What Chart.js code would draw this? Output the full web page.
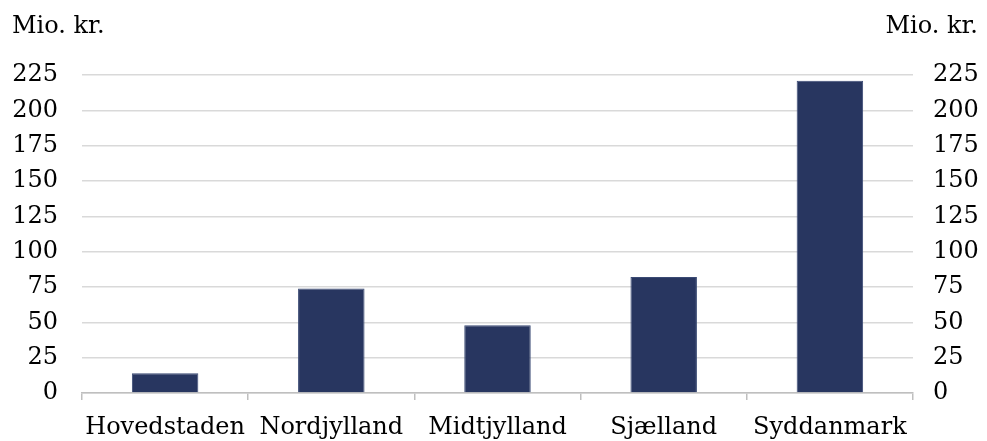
<!DOCTYPE html>
<html><head><meta charset="utf-8">
<script src="https://cdn.jsdelivr.net/npm/chart.js@4.4.0/dist/chart.umd.min.js"></script>
<style>html,body{margin:0;padding:0;background:#fff}#wrap{width:987px;height:441px;position:relative}</style>
</head><body><div id="wrap"><canvas id="c" width="987" height="441"></canvas></div>
<script>
const categories = ["Hovedstaden", "Nordjylland", "Midtjylland", "Sjælland", "Syddanmark"];
const values = [14, 74, 48, 82, 221];
const unitLabel = "Mio. kr.";
const yMin = 0, yMax = 225, yStep = 25;

const FONT = "'DejaVu Serif', Georgia, serif";
const FS = 24;
const unitPlugin = {
  id: 'unitPlugin',
  afterDraw(chart) {
    const ctx = chart.ctx;
    ctx.save();
    ctx.font = FS + "px " + FONT;
    ctx.fillStyle = "#000";
    ctx.textBaseline = "alphabetic";
    ctx.textAlign = "left";
    ctx.fillText(unitLabel, 12, 33);
    ctx.textAlign = "right";
    ctx.fillText(unitLabel, 978, 33);
    ctx.restore();
  }
};

new Chart(document.getElementById('c'), {
  type: 'bar',
  data: {
    labels: categories,
    datasets: [{
      data: values,
      backgroundColor: '#283660',
      borderColor: '#3a4a74',
      borderWidth: 1,
      barPercentage: 0.8,
      categoryPercentage: 0.5
    }]
  },
  options: {
    responsive: false,
    animation: false,
    layout: { padding: { top: 75, left: 0, right: 0, bottom: 0 } },
    plugins: { legend: { display: false }, tooltip: { enabled: false } },
    scales: {
      x: {
        grid: { drawOnChartArea: false, drawTicks: true, tickLength: 7, color: '#bfbfbf', lineWidth: 1.5 },
        border: { color: '#bfbfbf', width: 1.5 },
        ticks: { color: '#000', font: { family: FONT, size: FS }, padding: 13, maxRotation: 0, autoSkip: false },
        afterFit(s) { s.height = 48; }
      },
      y: {
        position: 'left',
        min: yMin, max: yMax,
        ticks: { stepSize: yStep, color: '#000', font: { family: FONT, size: FS }, padding: 24 },
        grid: { color: '#d9d9d9', lineWidth: 1.5, drawTicks: false },
        border: { display: false },
        afterFit(s) { s.width = 82; }
      },
      y2: {
        position: 'right',
        min: yMin, max: yMax,
        ticks: { stepSize: yStep, color: '#000', font: { family: FONT, size: FS }, padding: 20 },
        grid: { drawOnChartArea: false, drawTicks: false },
        border: { display: false },
        afterFit(s) { s.width = 74; }
      }
    }
  },
  plugins: [unitPlugin]
});
</script></body></html>
